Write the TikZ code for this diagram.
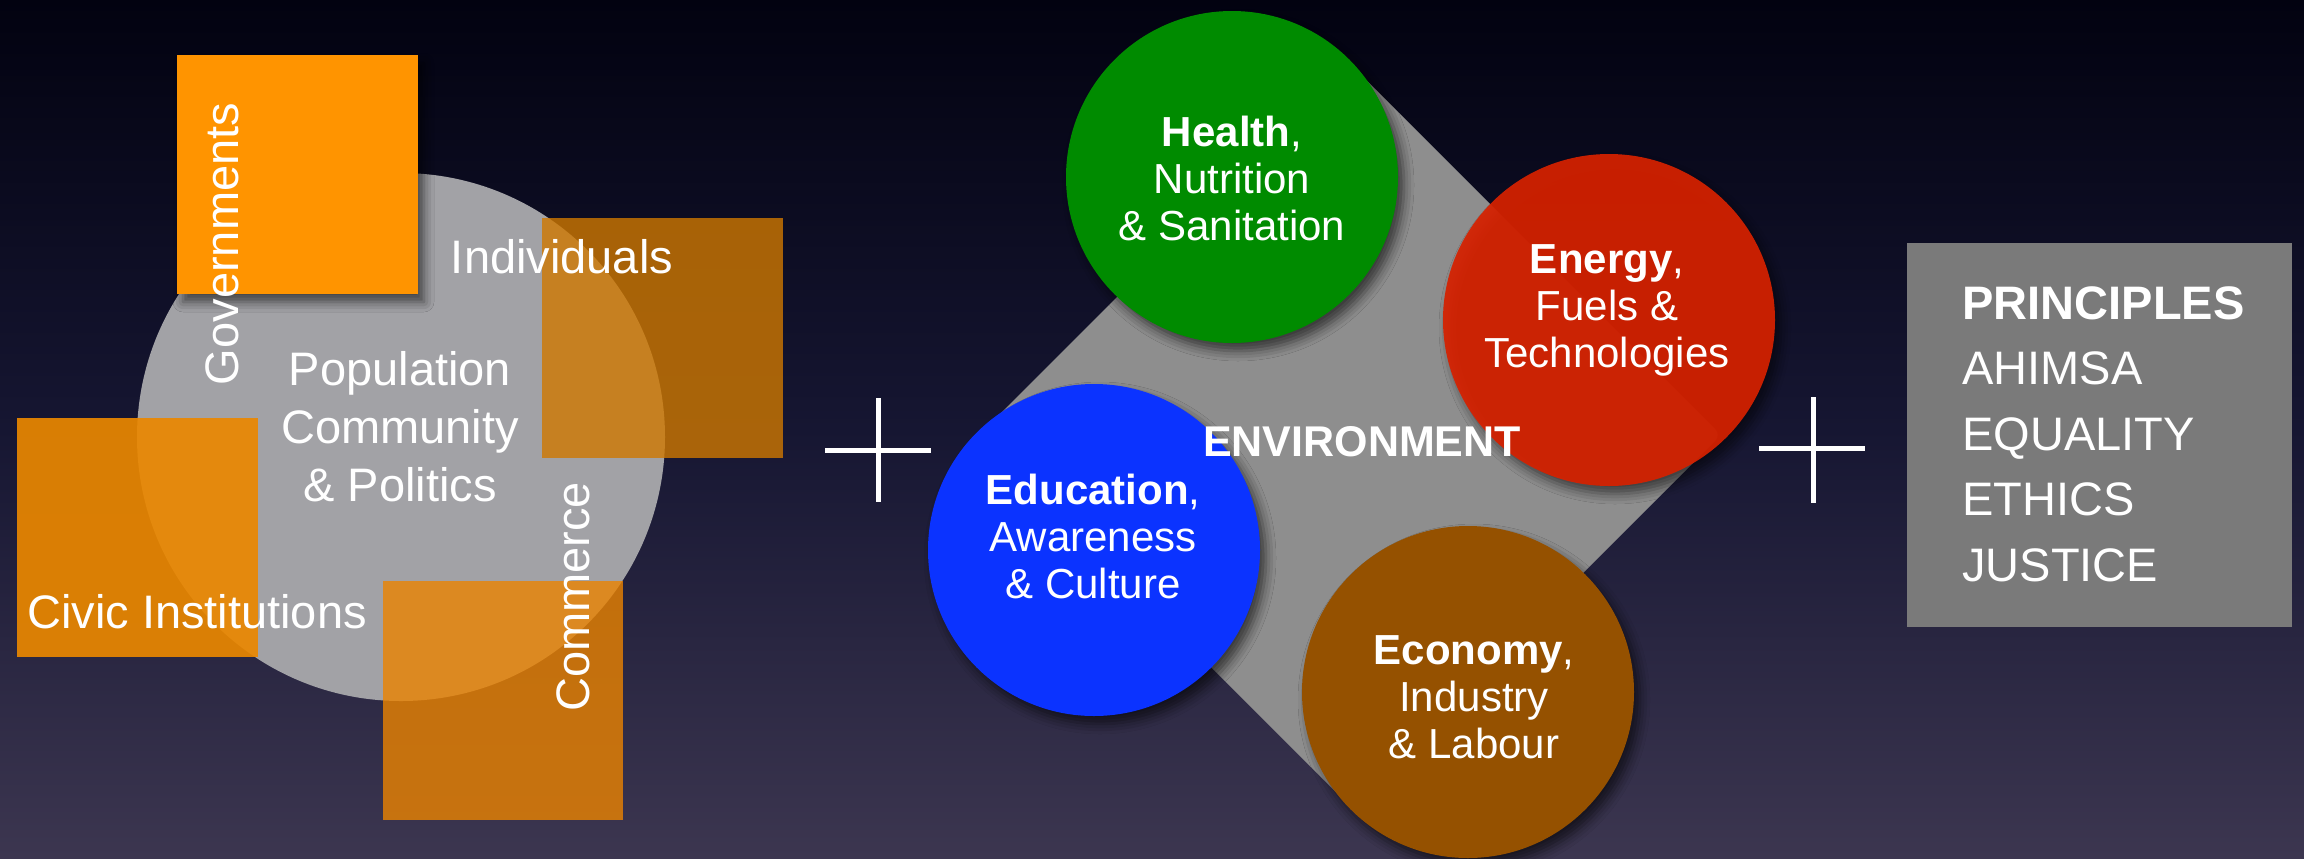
\documentclass[tikz,border=0pt]{standalone}
\usepackage{fontspec}
\setmainfont{Liberation Sans}
\usetikzlibrary{shadows.blur}
\definecolor{bgtop}{RGB}{2,2,16}
\definecolor{bgmid}{RGB}{22,22,50}
\definecolor{bgbot}{RGB}{60,54,80}
\definecolor{popgray}{RGB}{162,162,166}
\definecolor{govorange}{RGB}{255,148,0}
\definecolor{indorange}{RGB}{207,120,0}
\definecolor{civorange}{RGB}{234,135,0}
\definecolor{comorange}{RGB}{235,131,0}
\definecolor{envgray}{RGB}{142,142,142}
\definecolor{healthgreen}{RGB}{0,139,0}
\definecolor{energyred}{RGB}{214,33,0}
\definecolor{edublue}{RGB}{11,51,255}
\definecolor{ecobrown}{RGB}{149,81,0}
\definecolor{boxgray}{RGB}{122,122,122}
\begin{document}
\begin{tikzpicture}[x=.5pt,y=-.5pt,
   bigtext/.style={text=white,inner sep=0pt,font=\fontsize{23.5}{29}\selectfont},
   balltext/.style={text=white,inner sep=0pt,align=center,font=\fontsize{21}{23.5}\selectfont},
   softshadow/.style={blur shadow={shadow xshift=3pt,shadow yshift=-4pt,shadow blur radius=5pt,shadow opacity=60}},
   ball/.style={circle,minimum size=166pt,inner sep=0pt,softshadow},
   plusline/.style={white,line width=2.5pt}]
   \useasboundingbox (0,0) rectangle (2304,858);
   \shade[top color=bgtop,bottom color=bgbot,middle color=bgmid] (0,0) rectangle (2304,858);

   \path[fill=popgray] (401,437) circle (264);
   \path[fill=govorange,softshadow] (177,55) rectangle (418,294);
   \path[fill=indorange,fill opacity=.8] (542,218) rectangle (783,458);
   \path[fill=civorange,fill opacity=.92] (17,418) rectangle (258,657);
   \path[fill=comorange,fill opacity=.8] (383,581) rectangle (623,820);
   \node[bigtext] (individuals) at (562,257) {Individuals};
   \node[bigtext,align=center] (population) at (400,427) {Population\\Community\\\& Politics};
   \node[bigtext,rotate=90] (governments) at (222,244) {Governments};
   \node[bigtext] (civic) at (197,612) {Civic Institutions};
   \node[bigtext,rotate=90] (commerce) at (573,597) {Commerce};

   \draw[plusline] (825,450) -- (931,450) (878,398) -- (878,502);

   \path[fill=envgray,rounded corners=4pt] (1350,64) -- (1721,435) -- (1350,806) -- (979,435) -- cycle;
   \node[ball,fill=healthgreen] (health) at (1232,177) {};
   \node[ball,fill=energyred,fill opacity=.93] (energy) at (1609,320) {};
   \node[ball,fill=edublue] (education) at (1094,550) {};
   \node[ball,fill=ecobrown] (economy) at (1468,692) {};
   \node[balltext] (health-txt) at (1232,178) {\textbf{Health},\\Nutrition\\\& Sanitation};
   \node[balltext] (energy-txt) at (1607,310) {\textbf{Energy},\\Fuels \&\\Technologies};
   \node[balltext] (education-txt) at (1093,536) {\textbf{Education},\\Awareness\\\& Culture};
   \node[balltext] (economy-txt) at (1474,697) {\textbf{Economy},\\Industry\\\& Labour};
   \node[text=white,inner sep=0pt,font=\fontsize{21.5}{24}\selectfont\bfseries] (environment) at (1362,442) {ENVIRONMENT};

   \draw[plusline] (1759,448) -- (1865,448) (1813,397) -- (1813,503);

   \path[fill=boxgray] (1907,243) rectangle (2292,627);
   \node[text=white,inner sep=0pt,align=left,anchor=west,font=\fontsize{23.5}{32.75}\selectfont] (principles) at (1962,434) {\textbf{PRINCIPLES}\\AHIMSA\\EQUALITY\\ETHICS\\JUSTICE};
\end{tikzpicture}
\end{document}
